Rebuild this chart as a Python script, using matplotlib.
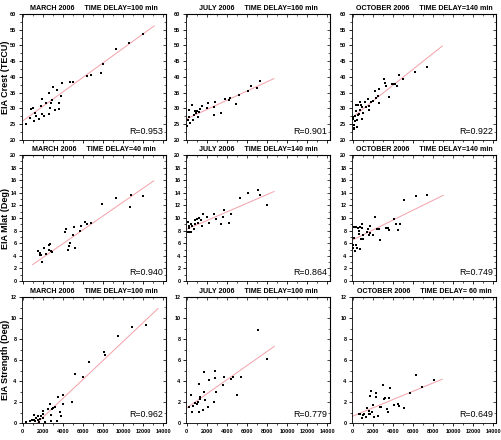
import matplotlib
matplotlib.use("Agg")
import matplotlib.pyplot as plt
from matplotlib.ticker import MultipleLocator, NullFormatter

plt.rcParams['font.family'] = ['Liberation Sans', 'DejaVu Sans']

# ---- data ----
months = ["MARCH 2006", "JULY 2006", "OCTOBER 2006"]
ylabels = ["EIA Crest (TECU)", "EIA Mlat (Deg)", "EIA Strength (Deg)"]
delays = [["100", "160", "140"], ["40", "140", "140"], ["100", "100", " 60"]]
r_values = [["0.953", "0.901", "0.922"], ["0.940", "0.864", "0.749"], ["0.962", "0.779", "0.649"]]

# crest (TECU)
mar_crest_x = [325, 715, 878, 1040, 1105, 1268, 1365, 1593, 1853, 1950, 1950, 2113, 2340, 2600, 2698,
               2665, 2828, 2958, 3055, 3250, 3413, 3575, 3673, 3803, 3900, 4745, 5038, 6370, 6760,
               7833, 7995, 9295, 10563, 11960]
mar_crest_y = [25.1, 27.0, 29.8, 30.1, 26.0, 28.5, 27.7, 26.8, 30.9, 32.9, 28.2, 27.7, 31.8, 35.0, 30.2,
               28.3, 31.6, 32.7, 36.9, 29.4, 35.9, 31.6, 29.7, 34.0, 38.2, 38.3, 38.3, 40.2, 40.5,
               41.3, 44.1, 48.8, 50.7, 53.6]
jul_crest_x = [97, 226, 291, 355, 194, 517, 646, 743, 840, 937, 1034, 1098, 1195, 1324, 1518, 2003,
               2164, 2713, 2746, 2875, 3392, 3779, 4264, 4361, 4942, 5200, 6072, 6363, 7009, 7300]
jul_crest_y = [24.3, 29.6, 27.2, 25.3, 26.2, 31.0, 26.4, 28.0, 29.3, 28.5, 29.3, 27.2, 28.9, 29.9, 30.9,
               30.2, 31.9, 30.4, 27.9, 32.0, 28.7, 33.0, 32.8, 33.4, 31.3, 34.3, 35.5, 37.1, 36.6, 38.6]
oct_crest_x = [0, 65, 130, 163, 195, 260, 293, 358, 390, 423, 455, 553, 585, 650, 715, 748, 878, 943,
               975, 1040, 1203, 1365, 1495, 1593, 1658, 1788, 2015, 2210, 2373, 2568, 2600, 2665,
               3088, 3218, 3315, 3608, 3933, 4095, 4225, 4420, 4615, 4973, 6208, 7378]
oct_crest_y = [26.7, 27.4, 23.6, 24.9, 23.8, 26.0, 27.7, 29.1, 31.1, 24.0, 26.2, 27.8, 31.1, 28.3, 29.6,
               32.0, 31.0, 30.4, 26.7, 28.5, 32.2, 30.6, 32.9, 29.6, 30.9, 32.1, 32.3, 35.5, 33.4,
               34.1, 36.3, 31.9, 39.4, 38.0, 37.2, 33.6, 37.7, 37.7, 37.8, 37.2, 40.6, 39.3, 41.6, 43.1]

# mlat (deg)
mar_mlat_x = [1950, 1495, 1690, 1755, 1853, 2113, 2340, 2600, 2730, 2600, 2795, 2958, 4258, 4323, 4485,
              4583, 4680, 5038, 5103, 5233, 5720, 5785, 6175, 6435, 6825, 7898, 9295, 10628, 10823, 11960]
mar_mlat_y = [3.0, 4.8, 4.5, 4.2, 4.1, 5.3, 4.3, 5.7, 5.9, 5.0, 4.8, 4.6, 7.8, 8.2, 5.0,
              5.6, 6.0, 7.3, 8.5, 5.3, 8.0, 8.8, 9.4, 9.1, 9.2, 12.3, 13.1, 11.7, 13.7, 13.5]
jul_mlat_x = [194, 226, 161, 291, 355, 485, 420, 549, 711, 808, 872, 1034, 1130, 1260, 1421, 1550, 1679,
              2003, 2261, 2778, 2939, 3456, 3618, 3715, 4264, 4458, 5265, 6105, 7074, 7300, 7978]
jul_mlat_y = [9.4, 8.4, 7.7, 8.8, 7.7, 7.7, 9.1, 8.8, 8.3, 9.7, 9.1, 9.8, 9.2, 10.0, 9.7, 8.7, 10.6,
              10.2, 9.2, 10.7, 9.8, 9.0, 10.2, 11.2, 9.2, 10.6, 13.2, 13.9, 14.5, 13.6, 12.1]
oct_mlat_x = [0, 65, 130, 195, 260, 325, 390, 455, 520, 618, 650, 715, 748, 878, 943, 975, 1040, 1073,
              1430, 1528, 1593, 1690, 1690, 2015, 2243, 2405, 2665, 2730, 3283, 3478, 3673, 4128,
              4323, 4485, 4713, 5135, 6273, 7443]
oct_mlat_y = [5.7, 5.2, 6.8, 8.6, 4.8, 5.7, 8.6, 5.2, 8.4, 7.9, 7.4, 8.5, 5.1, 6.6, 9.0, 8.4, 7.3, 6.6,
              7.7, 8.2, 7.3, 8.7, 7.6, 7.3, 10.1, 8.3, 8.3, 6.5, 8.4, 8.4, 8.1, 9.8,
              9.1, 8.1, 9.0, 12.9, 13.5, 13.6]

# strength (deg)
mar_str_x = [357, 780, 943, 1105, 1105, 1268, 1365, 1495, 1495, 1625, 1690, 1820, 2015, 2015, 2080, 2243,
             2503, 2730, 2795, 2828, 2893, 3055, 3185, 3380, 3543, 3705, 3803, 4030, 4063, 4908, 5200,
             6045, 6565, 8060, 8190, 9490, 10855, 12220]
mar_str_y = [0.06, 0.15, 0.3, 0.76, 0.25, 0.19, 0.47, 0.69, 0.25, 0.13, 0.38, 0.69, 0.5, 0.82, 1.1, 0.13,
             1.36, 1.77, 0.16, 0.76, 1.33, 1.42, 1.52, 0.22, 2.43, 1.07, 0.63, 2.71, 1.77, 1.99, 4.67,
             4.39, 5.8, 6.75, 6.44, 8.33, 9.12, 9.34]
jul_str_x = [258, 452, 581, 646, 840, 1001, 1098, 1195, 1260, 1292, 1389, 1615, 1744, 1744, 1873, 2164,
             2261, 2746, 2810, 2875, 2972, 3650, 3715, 4458, 4587, 5039, 5394, 7106, 8043]
jul_str_y = [1.51, 2.65, 1.04, 1.64, 1.89, 1.77, 2.02, 1.07, 3.69, 2.27, 2.46, 1.2, 2.93, 4.83, 2.15, 1.51,
             4.13, 1.96, 4.26, 4.92, 2.97, 3.63, 4.42, 4.17, 4.36, 2.68, 4.36, 8.87, 6.12]
oct_str_x = [650, 780, 910, 1008, 1105, 1300, 1430, 1593, 1658, 1690, 1755, 1853, 1918, 2048, 2178, 2308,
             2340, 2568, 2698, 2828, 3055, 3120, 3218, 3380, 3478, 3575, 3738, 4128, 4485, 4583, 5135,
             5688, 6273, 6923, 8125]
oct_str_y = [0.9, 0.83, 0.45, 0.8, 0.83, 0.61, 1.47, 0.83, 1.12, 2.6, 0.9, 3.01, 1.09, 1.7, 0.58, 2.89,
             2.44, 0.71, 1.57, 1.57, 3.65, 2.24, 2.37, 1.35, 1.09, 2.37, 3.37, 1.73, 1.79, 1.6, 1.47,
             2.82, 4.58, 3.4, 4.07]

xs = [[mar_crest_x, jul_crest_x, oct_crest_x],
      [mar_mlat_x, jul_mlat_x, oct_mlat_x],
      [mar_str_x, jul_str_x, oct_str_x]]
ys = [[mar_crest_y, jul_crest_y, oct_crest_y],
      [mar_mlat_y, jul_mlat_y, oct_mlat_y],
      [mar_str_y, jul_str_y, oct_str_y]]

# regression line end points (x0, x1, y0, y1)
fit_lines = [[(0, 13065, 26.0, 56.2), (0, 8689, 26.7, 39.5), (0, 8905, 27.2, 49.8)],
             [(1008, 13033, 2.6, 15.9), (0, 8689, 8.2, 14.2), (0, 9003, 6.5, 13.6)],
             [(1430, 13455, 0.0, 10.9), (0, 8721, 1.42, 7.3), (0, 8905, 0.64, 4.17)]]

ylims = [(20, 60), (0, 20), (0, 12)]
ymajor = [5, 2, 2]
yminor = [2.5, 1, 1]

# ---- layout ----
fig = plt.figure(figsize=(5.02, 4.4), dpi=100)
W, H = 502.0, 440.0
col_left = [22, 186, 352]
row_top = [14, 155, 297]
aw, ah = 144, 126

for r in range(3):
    for c in range(3):
        ax = fig.add_axes([col_left[c] / W, 1 - (row_top[r] + ah) / H, aw / W, ah / H])
        ax.scatter(xs[r][c], ys[r][c], marker='s', s=4, color='black', linewidths=0, zorder=3,
                   clip_on=False)
        x0, x1, y0, y1 = fit_lines[r][c]
        ax.plot([x0, x1], [y0, y1], color='#f4a0a8', lw=0.7, zorder=2)

        ax.set_xlim(-50, 14250)
        ax.set_ylim(*ylims[r])
        ax.xaxis.set_major_locator(MultipleLocator(2000))
        ax.xaxis.set_minor_locator(MultipleLocator(1000))
        ax.yaxis.set_major_locator(MultipleLocator(ymajor[r]))
        ax.yaxis.set_minor_locator(MultipleLocator(yminor[r]))
        ax.tick_params(which='major', direction='out', length=2.5, width=0.6, labelsize=4.0, pad=1.5)
        ax.tick_params(which='minor', direction='out', length=1.5, width=0.5)
        if r < 2:
            ax.xaxis.set_major_formatter(NullFormatter())
        for lab in ax.get_xticklabels() + ax.get_yticklabels():
            lab.set_fontweight('bold')

        # mirrored ticks on top / right
        sx = ax.secondary_xaxis('top')
        sx.xaxis.set_major_locator(MultipleLocator(2000))
        sx.xaxis.set_minor_locator(MultipleLocator(1000))
        sx.tick_params(which='major', direction='in', length=2.0, width=0.5, labeltop=False)
        sx.tick_params(which='minor', direction='in', length=1.2, width=0.4)
        sy = ax.secondary_yaxis('right')
        sy.yaxis.set_major_locator(MultipleLocator(ymajor[r]))
        sy.yaxis.set_minor_locator(MultipleLocator(yminor[r]))
        sy.tick_params(which='major', direction='in', length=2.0, width=0.5, labelright=False)
        sy.tick_params(which='minor', direction='in', length=1.2, width=0.4)

        for sp in ax.spines.values():
            sp.set_linewidth(0.6)

        ax.set_title(f"{months[c]}     TIME DELAY={delays[r][c]} min", fontsize=5.1, fontweight='bold', pad=3)
        ax.text(0.982, 0.048, f"R={r_values[r][c]}", transform=ax.transAxes,
                ha='right', va='baseline', fontsize=6.4)
        if c == 0:
            ax.set_ylabel(ylabels[r], fontsize=6.5, fontweight='bold')
            ax.yaxis.set_label_coords(-12 / aw, 0.5)

fig.savefig("out.png", dpi=100)
